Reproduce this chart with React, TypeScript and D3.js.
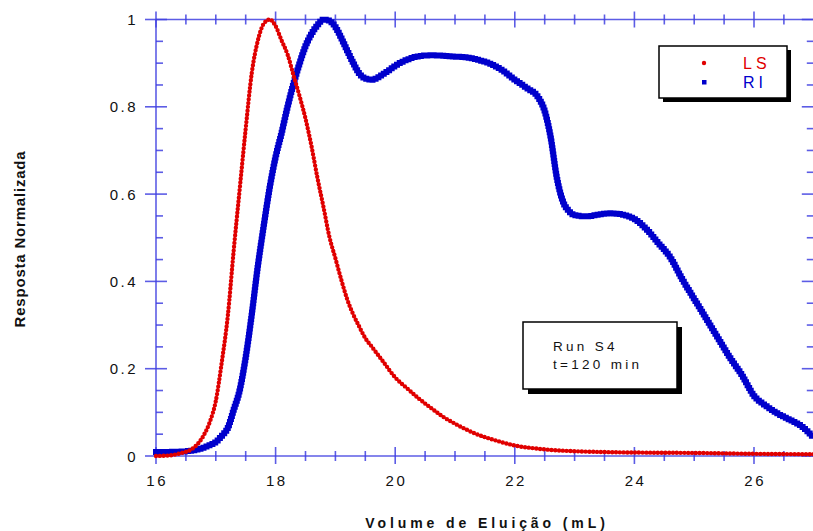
import React from "react";
import * as d3 from "d3";

// Elution volume (mL) and normalized light-scattering (LS) response
const lsVolume = [
  16.0, 16.2, 16.4, 16.6, 16.7, 16.8, 16.9, 17.0, 17.1, 17.2, 17.3, 17.4, 17.5,
  17.6, 17.7, 17.8, 17.9, 18.0, 18.1, 18.2, 18.3, 18.4, 18.5, 18.6, 18.7, 18.8,
  18.9, 19.0, 19.1, 19.2, 19.3, 19.4, 19.5, 19.6, 19.8, 20.0, 20.2, 20.4, 20.6,
  20.8, 21.0, 21.2, 21.4, 21.6, 21.8, 22.0, 22.3, 22.6, 23.0, 23.5, 24.0, 25.0,
  26.0, 27.0,
];
const lsResponse = [
  0.0, 0.001, 0.006, 0.016, 0.028, 0.048, 0.078, 0.126, 0.215, 0.32, 0.472,
  0.612, 0.75, 0.876, 0.95, 0.99, 1.0, 0.985, 0.952, 0.92, 0.872, 0.825, 0.773,
  0.71, 0.637, 0.571, 0.502, 0.453, 0.403, 0.358, 0.324, 0.296, 0.27, 0.252,
  0.216, 0.18, 0.155, 0.131, 0.11, 0.09, 0.074, 0.06, 0.048, 0.039, 0.031,
  0.024, 0.018, 0.014, 0.011, 0.009, 0.008, 0.007, 0.005, 0.004,
];

// Elution volume (mL) and normalized refractive-index (RI) response
const riVolume = [
  16.0, 16.4, 16.7, 16.9, 17.0, 17.1, 17.2, 17.3, 17.4, 17.5, 17.6, 17.7, 17.8,
  17.9, 18.0, 18.1, 18.2, 18.3, 18.4, 18.5, 18.6, 18.7, 18.8, 18.9, 19.0, 19.1,
  19.2, 19.3, 19.4, 19.5, 19.6, 19.7, 19.8, 19.9, 20.0, 20.2, 20.4, 20.6, 20.8,
  21.0, 21.2, 21.4, 21.6, 21.8, 22.0, 22.2, 22.4, 22.5, 22.6, 22.7, 22.8, 22.9,
  23.0, 23.2, 23.4, 23.6, 23.8, 24.0, 24.2, 24.4, 24.6, 24.8, 25.0, 25.2, 25.4,
  25.6, 25.8, 26.0, 26.2, 26.4, 26.6, 26.8, 27.0,
];
const riResponse = [
  0.009, 0.01, 0.015, 0.025, 0.032, 0.046, 0.064, 0.106, 0.151, 0.226, 0.323,
  0.432, 0.526, 0.614, 0.685, 0.74, 0.8, 0.853, 0.899, 0.939, 0.967, 0.987, 1.0,
  0.997, 0.983, 0.957, 0.928, 0.9, 0.876, 0.865, 0.862, 0.866, 0.875, 0.884,
  0.894, 0.908, 0.916, 0.918, 0.917, 0.915, 0.913, 0.907, 0.898, 0.883, 0.862,
  0.843, 0.82, 0.79, 0.73, 0.64, 0.585, 0.562, 0.552, 0.549, 0.553, 0.556,
  0.553, 0.543, 0.52, 0.488, 0.455, 0.405, 0.36, 0.315, 0.27, 0.225, 0.185,
  0.138, 0.115, 0.097, 0.083, 0.068, 0.042,
];

const xTickValues = [16, 18, 20, 22, 24, 26];
const yTickValues = [0, 0.2, 0.4, 0.6, 0.8, 1];
const yTickLabels = ["0", "0.2", "0.4", "0.6", "0.8", "1"];

const legendItems = [
  { label: "LS", color: "#e00000", shape: "dot" },
  { label: "RI", color: "#0000cc", shape: "square" },
];
const noteLines = ["Run S4", "t=120 min"];

const W = 813;
const H = 531;
const AXIS = "#4040e0";
const FONT = "Arial, 'Liberation Sans', Helvetica, sans-serif";

export default function App() {
  const x = d3.scaleLinear().domain([16, 27]).range([156, 813.8]);
  const y = d3.scaleLinear().domain([0, 1]).range([456, 19.5]);
  const [x0, x1] = x.range();
  const [y0, y1] = y.range();

  const line = d3
    .line<[number, number]>()
    .x((d) => x(d[0]))
    .y((d) => y(d[1]))
    .curve(d3.curveMonotoneX);

  const lsPath = line(lsVolume.map((v, i) => [v, lsResponse[i]] as [number, number])) || "";
  const riPath = line(riVolume.map((v, i) => [v, riResponse[i]] as [number, number])) || "";

  const xMinor = x.ticks(22).filter((t) => !xTickValues.includes(t));
  const yMinor = y.ticks(20).filter((t) => !yTickValues.some((m) => Math.abs(m - t) < 1e-9));

  return (
    <div style={{ position: "absolute", left: 0, top: 0 }}>
      <svg width={W} height={H} style={{ display: "block", background: "#fff" }}>
        <defs>
          <clipPath id="plot">
            <rect x={x0 - 6} y={y1 - 6} width={x1 - x0 + 12} height={y0 - y1 + 12} />
          </clipPath>
        </defs>

        {/* frame */}
        <g stroke={AXIS} strokeWidth={1.6} strokeOpacity={0.85} fill="none">
          <line x1={x0} y1={y0} x2={x1} y2={y0} />
          <line x1={x0} y1={y1} x2={x1} y2={y1} />
          <line x1={x0} y1={y0} x2={x0} y2={y1} />
          <line x1={x1} y1={y0} x2={x1} y2={y1} />
          {xTickValues.map((t) => (
            <g key={"xm" + t}>
              <line x1={x(t)} x2={x(t)} y1={y0 - 9} y2={y0 + 8} />
              <line x1={x(t)} x2={x(t)} y1={y1 - 8} y2={y1 + 8} />
            </g>
          ))}
          {xMinor.map((t) => (
            <g key={"xn" + t}>
              <line x1={x(t)} x2={x(t)} y1={y0 - 5} y2={y0 + 5} />
              <line x1={x(t)} x2={x(t)} y1={y1 - 5} y2={y1 + 5} />
            </g>
          ))}
          {yTickValues.map((t) => (
            <g key={"ym" + t}>
              <line x1={x0 - 11} x2={x0 + 11} y1={y(t)} y2={y(t)} />
              <line x1={x1 - 12} x2={x1} y1={y(t)} y2={y(t)} />
            </g>
          ))}
          {yMinor.map((t) => (
            <g key={"yn" + t}>
              <line x1={x0} x2={x0 + 7} y1={y(t)} y2={y(t)} />
              <line x1={x1 - 7} x2={x1} y1={y(t)} y2={y(t)} />
            </g>
          ))}
        </g>

        {/* tick labels */}
        <g fontFamily={FONT} fontSize={15} fill="#111" letterSpacing={2.5}>
          {xTickValues.map((t) => (
            <text key={"xl" + t} x={x(t) + 1.2} y={486} textAnchor="middle">
              {t}
            </text>
          ))}
          {yTickValues.map((t, i) => (
            <text key={"yl" + t} x={138} y={y(t) + 5.5} textAnchor="end">
              {yTickLabels[i]}
            </text>
          ))}
        </g>

        {/* axis titles */}
        <text
          x={487}
          y={528}
          textAnchor="middle"
          fontFamily={FONT}
          fontSize={14}
          fontWeight="bold"
          letterSpacing={3.9}
          fill="#111"
        >
          Volume de Eluição (mL)
        </text>
        <text
          transform="translate(25,239) rotate(-90)"
          textAnchor="middle"
          fontFamily={FONT}
          fontSize={15}
          fontWeight="bold"
          letterSpacing={0.8}
          fill="#111"
        >
          Resposta Normalizada
        </text>

        {/* series */}
        <g clipPath="url(#plot)" fill="none">
          <path
            d={riPath}
            stroke={legendItems[1].color}
            strokeWidth={6}
            strokeLinecap="square"
            strokeDasharray="0 3.2"
          />
          <path
            d={lsPath}
            stroke={legendItems[0].color}
            strokeWidth={4.4}
            strokeLinecap="round"
            strokeDasharray="0 3.8"
          />
        </g>

        {/* legend */}
        <g>
          <rect x={663} y={50} width={128} height={52} fill="#000" />
          <rect x={659} y={46} width={128} height={52} fill="#fff" stroke="#000" strokeWidth={1.5} />
          {legendItems.map((item, i) => (
            <g key={item.label}>
              {item.shape === "dot" ? (
                <circle cx={704} cy={63 + i * 19} r={2.2} fill={item.color} />
              ) : (
                <rect x={702} y={80 + (i - 1) * 19} width={4.5} height={4.5} fill={item.color} />
              )}
              <text
                x={743}
                y={69 + i * 19}
                fontFamily={FONT}
                fontSize={16}
                letterSpacing={4}
                fill={item.color}
              >
                {item.label}
              </text>
            </g>
          ))}
        </g>

        {/* run annotation */}
        <g>
          <rect x={528} y={327} width={154} height={67} fill="#000" />
          <rect x={523} y={322} width={154} height={67} fill="#fff" stroke="#000" strokeWidth={1.5} />
          {noteLines.map((s, i) => (
            <text
              key={s}
              x={553}
              y={351 + i * 18}
              fontFamily={FONT}
              fontSize={13.5}
              letterSpacing={3.3}
              fill="#111"
            >
              {s}
            </text>
          ))}
        </g>
      </svg>
    </div>
  );
}
